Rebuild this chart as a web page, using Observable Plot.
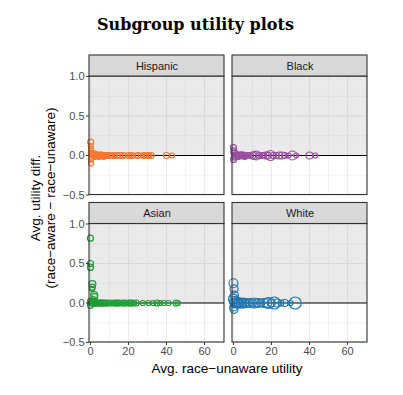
<!DOCTYPE html>
<html>
<head>
<meta charset="utf-8">
<script src="https://cdn.jsdelivr.net/npm/d3@7"></script>
<script src="https://cdn.jsdelivr.net/npm/@observablehq/plot@0.6"></script>
<style>
  html, body { margin: 0; padding: 0; background: #fff; }
  #chart { position: relative; width: 403px; height: 395px; }
</style>
</head>
<body>
<div id="chart"></div>
<script>
// ---- data ----
const groups = ["Hispanic", "Black", "Asian", "White"];
const groupColors = ["#F8762D", "#9B4FA0", "#1E9E35", "#1F78B4"];
const groupCols = ["c1", "c2", "c1", "c2"];
const groupRows = ["r1", "r1", "r2", "r2"];

const xTicks = [0, 20, 40, 60];
const yTicks = [-0.5, 0, 0.5, 1.0];
const xGridMajor = [0, 20, 40, 60];
const xGridMinor = [10, 30, 50, 70];
const yGridMajor = [-0.5, 0, 0.5, 1.0];
const yGridMinor = [-0.25, 0.25, 0.75];

const hispanicX = [0.1, 0.2, 0.3, 0.2, 0.3, 0.5, 0.8, 1, 1.5, 2, 2.5, 3, 3.5, 4, 4.5, 5, 5.5, 6, 6.5, 7, 7.5, 8, 9, 10, 11, 12, 13, 14, 15.5, 17, 18, 20, 21, 22, 24, 25, 26.5, 28, 29, 30, 31, 32, 40, 43];
const hispanicY = [0.17, 0.12, 0.08, -0.05, -0.1, 0.03, -0.02, 0.01, 0, 0.02, -0.01, 0, 0.01, 0, -0.01, 0, 0.01, 0, 0, -0.01, 0, 0, 0, 0, 0, 0, 0, 0, 0, 0, 0, 0, 0, 0, 0, 0, 0, 0, 0, 0, 0, 0, 0, 0];
const hispanicR = [3, 2.5, 2.5, 2.5, 2.5, 3, 3, 3, 3, 3, 3, 3, 3, 3, 3, 3, 3, 3, 3, 3, 3, 3, 3, 3, 2.5, 3, 2.5, 3, 3, 3, 2.5, 3, 2.5, 3, 2.5, 3, 2.5, 3, 2.5, 3, 2.5, 3, 3, 2.5];

const blackX = [0, 0.2, 0.1, 0.3, 0.5, 1, 1.5, 2, 2.5, 3, 3.5, 4, 4.5, 5, 5.5, 6, 7, 8, 9, 10, 11, 12, 13.5, 15, 16, 17, 18, 19.5, 21, 22.5, 24, 25.5, 27, 29, 31, 33, 40, 43];
const blackY = [0.1, 0.06, -0.05, 0.03, -0.02, 0, 0.01, 0, -0.01, 0, 0, 0.01, 0, 0, 0, -0.01, 0, 0, 0, 0, 0, 0, 0, 0, 0, 0, 0, 0, 0, 0, 0, 0, 0, 0, 0, 0, 0, 0];
const blackR = [3, 3, 3, 3, 3, 3.5, 3, 3.5, 3, 3.5, 3, 3, 3, 3.5, 3, 3, 3, 2.5, 3, 3.5, 4, 4.5, 3, 3, 3, 3.5, 3.5, 5, 3, 3, 3.5, 3.5, 3, 2.5, 4.5, 2.5, 3.5, 2.5];

const asianX = [0, 0, 0, 1, 1, 0.8, 2, 2.2, 1.5, 0, 0, 0.5, 1, 1.5, 2, 2.5, 3, 3.5, 4, 4.5, 5, 5.5, 6, 6.5, 7, 8, 9, 10, 11, 12, 13, 14, 15, 16, 17, 18, 19, 20, 21, 22, 23, 24, 27.5, 30.5, 33, 35, 36.5, 38.5, 41, 45, 46];
const asianY = [0.82, 0.5, 0.45, 0.24, 0.2, 0.18, 0.1, 0.08, 0.05, 0.02, -0.03, 0, 0.01, 0, 0, 0.01, 0, 0, 0, 0, 0, 0, 0, 0, 0, 0, 0, 0, 0, 0, 0, 0, 0, 0, 0, 0, 0, 0, 0, 0, 0, 0, 0, 0, 0, 0, 0, 0, 0, 0, 0];
const asianR = [3, 3, 3, 3.5, 3, 2.5, 3.5, 3, 2.5, 3, 3, 3, 3, 3, 3, 3, 3, 3, 3, 2.5, 3, 3, 3, 2.5, 3, 3, 3, 2.5, 3, 2.5, 3, 3, 3, 2.5, 3, 3, 2.5, 3, 3, 3, 2.5, 3, 2.5, 2.5, 2.5, 3, 2.5, 2.5, 2.5, 3, 2.5];

const whiteX = [0, 0.3, 0.5, 0, 0.2, 0.3, 0.5, 1, 1.5, 2, 2.5, 3, 3.5, 4, 5, 5.5, 6, 7, 8, 9, 10, 11, 12, 13, 14.5, 16, 17.5, 18.5, 20, 21.5, 23, 25, 27, 30, 32.5];
const whiteY = [0.25, 0.18, 0.1, 0.05, -0.05, -0.08, 0.02, 0, -0.01, 0.01, 0, 0, 0, 0, 0, 0, 0, 0, 0, 0, 0, 0, 0, 0, 0, 0, 0, 0, 0, 0, 0, 0, 0, 0, 0];
const whiteR = [4.5, 4, 4, 5, 4, 4, 5, 5, 4, 5, 4, 5, 4, 5, 4, 5, 4, 4.5, 4, 4.5, 4, 5, 4, 4.5, 4, 4.5, 5, 5.5, 4, 6, 4, 3, 3.5, 2.5, 6];

// ---- build tables ----
const seriesX = [hispanicX, blackX, asianX, whiteX];
const seriesY = [hispanicY, blackY, asianY, whiteY];
const seriesR = [hispanicR, blackR, asianR, whiteR];

const panels = groups.map((g, i) => ({g, fx: groupCols[i], fy: groupRows[i]}));
const points = groups.flatMap((g, i) =>
  seriesX[i].map((x, j) => ({
    g, x, y: seriesY[i][j], r: seriesR[i][j],
    color: groupColors[i], fx: groupCols[i], fy: groupRows[i]
  }))
);

const X0 = -0.5, X1 = 70.5, Y0 = -0.5, Y1 = 1.0, YS = 1.266;

const plot = Plot.plot({
  width: 403,
  height: 395,
  marginLeft: 89,
  marginRight: 36,
  marginTop: 55,
  marginBottom: 53,
  style: {background: "#fff", fontFamily: "Liberation Sans, Arial, sans-serif"},
  fx: {domain: ["c1", "c2"], axis: null, paddingInner: 0.056, paddingOuter: 0, round: false},
  fy: {domain: ["r1", "r2"], axis: null, paddingInner: 0.054, paddingOuter: 0, round: false},
  x: {domain: [X0, X1]},
  y: {domain: [Y0, YS]},
  r: {type: "identity"},
  marks: [
    Plot.rect(panels, {x1: X0, x2: X1, y1: Y0, y2: Y1, fx: "fx", fy: "fy", fill: "#fff"}),
    Plot.ruleX(xGridMinor, {y1: Y0, y2: Y1, stroke: "#EBEBEB", strokeWidth: 0.6}),
    Plot.ruleY(yGridMinor, {x1: X0, x2: X1, stroke: "#EBEBEB", strokeWidth: 0.6}),
    Plot.ruleX(xGridMajor, {y1: Y0, y2: Y1, stroke: "#EBEBEB", strokeWidth: 1.1}),
    Plot.ruleY(yGridMajor, {x1: X0, x2: X1, stroke: "#EBEBEB", strokeWidth: 1.1}),
    Plot.rect(panels, {x1: X0, x2: X1, y1: 0, y2: Y1, fx: "fx", fy: "fy", fill: "#7f7f7f", fillOpacity: 0.16}),
    Plot.ruleY([0], {x1: X0, x2: X1, stroke: "#000", strokeWidth: 1}),
    Plot.dot(points, {x: "x", y: "y", r: "r", fx: "fx", fy: "fy", stroke: "color", fill: "none", strokeWidth: 1.2}),
    Plot.rect(panels, {x1: X0, x2: X1, y1: Y0, y2: Y1, fx: "fx", fy: "fy", fill: "none", stroke: "#333", strokeWidth: 1.1}),
    Plot.rect(panels, {x1: X0, x2: X1, y1: Y1, y2: YS, fx: "fx", fy: "fy", fill: "#D9D9D9", stroke: "#333", strokeWidth: 1.1}),
    Plot.text(panels, {x: (X0 + X1) / 2, y: (Y1 + YS) / 2, text: "g", fx: "fx", fy: "fy", fontSize: 11, fill: "#1A1A1A"}),
    Plot.axisX({ticks: xTicks, tickSize: 3, tickPadding: 2, fontSize: 11, stroke: "#333", fill: "#4D4D4D", label: null, tickFormat: d3.format("d")}),
    Plot.axisY({ticks: yTicks, tickSize: 3, tickPadding: 2, fontSize: 11, stroke: "#333", fill: "#4D4D4D", label: null, tickFormat: d3.format(".1f")})
  ]
});

document.getElementById("chart").appendChild(plot);

const svg = d3.select(plot);
svg.append("text")
  .attr("x", 97).attr("y", 30)
  .attr("text-anchor", "start")
  .attr("font-family", "DejaVu Serif, serif")
  .attr("font-weight", "bold")
  .attr("font-size", 16)
  .attr("fill", "#000")
  .text("Subgroup utility plots");

svg.append("text")
  .attr("transform", "translate(40,198) rotate(-90)")
  .attr("text-anchor", "middle")
  .attr("font-family", "Liberation Sans, Arial, sans-serif")
  .attr("font-size", 13.5)
  .attr("fill", "#000")
  .text("Avg. utility diff.");
svg.append("text")
  .attr("transform", "translate(55,198) rotate(-90)")
  .attr("text-anchor", "middle")
  .attr("font-family", "Liberation Sans, Arial, sans-serif")
  .attr("font-size", 13.5)
  .attr("fill", "#000")
  .text("(race\u2212aware \u2212 race\u2212unaware)");

svg.append("text")
  .attr("x", 227).attr("y", 373)
  .attr("text-anchor", "middle")
  .attr("font-family", "Liberation Sans, Arial, sans-serif")
  .attr("font-size", 13.5)
  .attr("fill", "#000")
  .text("Avg. race\u2212unaware utility");
</script>
</body>
</html>
